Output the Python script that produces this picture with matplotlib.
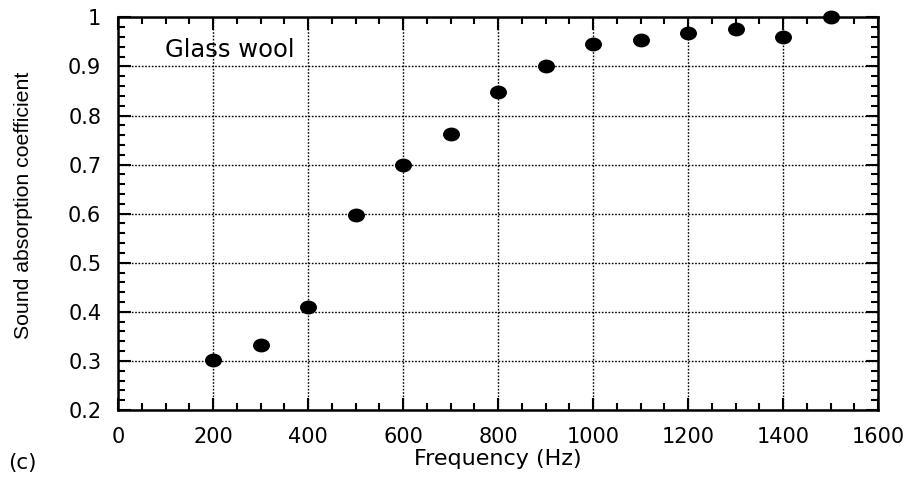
import numpy as np
import matplotlib.pyplot as plt
from matplotlib.path import Path
from matplotlib.ticker import MultipleLocator

plt.rcParams['font.family'] = ['DejaVu Sans']

freq = [200, 300, 400, 500, 600, 700, 800, 900, 1000, 1100, 1200, 1300, 1400, 1500]
absorption = [0.302, 0.333, 0.41, 0.598, 0.70, 0.763, 0.847, 0.902, 0.945, 0.955,
              0.969, 0.977, 0.961, 1.0]
y_ticks = [0.2, 0.3, 0.4, 0.5, 0.6, 0.7, 0.8, 0.9, 1.0]
y_tick_labels = ['0.2', '0.3', '0.4', '0.5', '0.6', '0.7', '0.8', '0.9', '1']


def ellipse_marker(ratio):
    # the scan is a bit stretched sideways, so the dots are slightly wide
    circle = Path.unit_circle()
    verts = circle.vertices * np.array([1.0, ratio])
    return Path(verts, circle.codes)


def main():
    fig = plt.figure(figsize=(9.08, 4.84), dpi=100)
    ax = fig.add_axes([0.130, 0.153, 0.837, 0.811])

    ax.plot(freq, absorption, linestyle='none', marker=ellipse_marker(0.8),
            color='black', markersize=11.2, clip_on=False, zorder=5)

    ax.set_xlim(0, 1600)
    ax.set_ylim(0.2, 1.0)
    ax.xaxis.set_major_locator(MultipleLocator(200))
    ax.xaxis.set_minor_locator(MultipleLocator(50))
    ax.yaxis.set_minor_locator(MultipleLocator(0.02))
    ax.set_yticks(y_ticks)
    ax.set_yticklabels(y_tick_labels)

    ax.tick_params(which='both', direction='in', top=True, right=True, labelsize=15, width=1.5)
    ax.tick_params(which='major', length=9, pad=12)
    ax.tick_params(which='minor', length=5)
    for s in ax.spines.values():
        s.set_linewidth(1.8)

    ax.grid(True, which='major', color='black', linestyle=(0, (1.2, 1.2)), linewidth=1)

    ax.text(98, 0.919, 'Glass wool', fontsize=17.5)
    ax.set_xlabel('Frequency (Hz)', fontsize=16)
    ax.xaxis.set_label_coords(0.5, -0.1)
    ax.set_ylabel('Sound absorption coefficient', fontsize=15.3, family='Liberation Sans')
    ax.yaxis.set_label_coords(-0.112, 0.522)
    fig.text(0.009, 0.03, '(c)', fontsize=15.5)

    fig.savefig('out.png')


if __name__ == "__main__":
    main()
